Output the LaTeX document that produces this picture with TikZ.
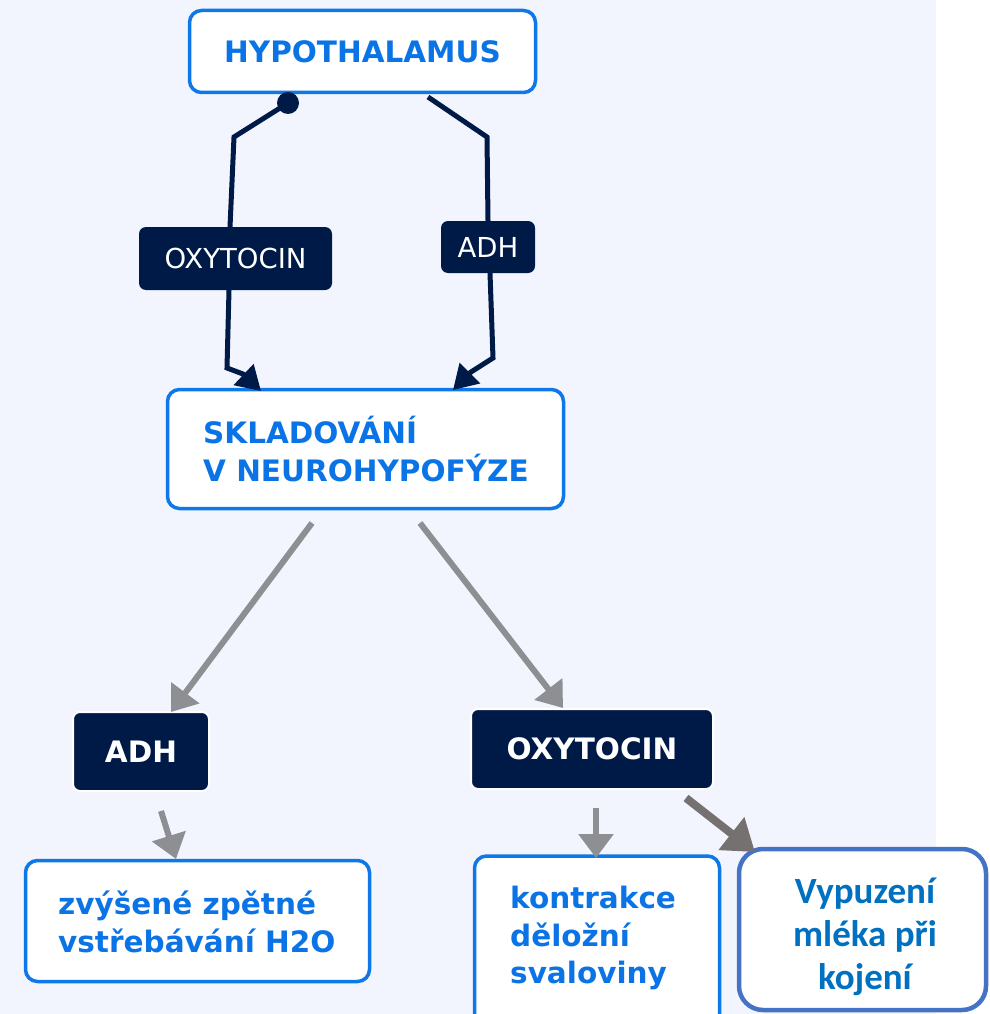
\documentclass[tikz,border=0pt]{standalone}
\usepackage{fontspec}
\setmainfont{DejaVu Sans}
\newfontfamily\calib{Carlito}
\usetikzlibrary{arrows.meta}
\definecolor{bgblue}{HTML}{F2F5FE}
\definecolor{navy}{HTML}{001A47}
\definecolor{tblue}{HTML}{0A74E6}
\definecolor{bblue}{HTML}{0F78E8}
\definecolor{oblue}{HTML}{4472C4}
\definecolor{otext}{HTML}{0070C0}
\definecolor{gline}{HTML}{8E8F92}
\definecolor{dgline}{HTML}{767171}
\begin{document}
\begin{tikzpicture}[x=1pt,y=-1pt,
  wbox/.style={draw=bblue, line width=3.5pt, fill=white, rounded corners=12pt, inner sep=0pt},
  obox/.style={draw=oblue, line width=4.5pt, fill=white, rounded corners=24pt, inner sep=0pt},
  btext/.style={text=tblue, inner sep=0pt, font=\bfseries\fontsize{29.5}{37.5}\selectfont},
  otxt/.style={text=otext, inner sep=0pt, align=center, font=\calib\bfseries\fontsize{37}{43}\selectfont},
  dbox/.style={fill=navy, rounded corners=7pt, inner sep=0pt, text=white},
  dlabel/.style={dbox, font=\fontsize{27.5}{33}\selectfont},
  dboxb/.style={dbox, draw=white, line width=2pt, font=\bfseries\fontsize{29.5}{37}\selectfont},
  navyline/.style={draw=navy, line width=5pt, line join=miter},
  navyarrow/.style={navyline, -{Triangle[length=24pt,width=28pt]}},
  garrow/.style={draw=gline, line width=6pt, -{Triangle[length=24pt,width=34pt]}},
  dgarrow/.style={draw=dgline, line width=8pt, -{Triangle[length=30pt,width=40pt]}}
]
\useasboundingbox (0,0) rectangle (989,1014);
\fill[white] (0,0) rectangle (989,1014);
\fill[bgblue] (0,0) rectangle (936,1014);

% nodes
\node[wbox, btext, minimum width=346pt, minimum height=82pt] (hyp) at (362.5,51.5) {HYPOTHALAMUS};
\node[dlabel, minimum width=193pt, minimum height=63pt] (oxt) at (235.5,258.5) {OXYTOCIN};
\node[dlabel, minimum width=94pt, minimum height=52pt] (adht) at (488,247) {ADH};
\node[wbox, minimum width=396pt, minimum height=119pt] (skl) at (365.5,449) {};
\node[btext, align=left, anchor=west] (sklt) at (203,449) {SKLADOVÁNÍ\\V NEUROHYPOFÝZE};
\node[dboxb, minimum width=136pt, minimum height=79pt] (adhb) at (141,751.5) {ADH};
\node[dboxb, minimum width=242pt, minimum height=80pt] (oxb) at (592,749) {OXYTOCIN};
\node[wbox, minimum width=344pt, minimum height=121pt] (zvy) at (197.5,921) {};
\node[btext, align=left, anchor=west] (zvyt) at (58,922) {zvýšené zpětné\\vstřebávání H2O};
\node[wbox, minimum width=245pt, minimum height=170pt] (kon) at (597,941) {};
\node[btext, align=left, anchor=west] (kont) at (510,938) {kontrakce\\děložní\\svaloviny};
\node[obox, minimum width=247pt, minimum height=161pt] (vyp) at (862.5,929.5) {};
\node[otxt] (vypt) at (865,937) {Vypuzení\\mléka při\\kojení};

% navy connectors
\coordinate (hL) at (288,103);
\coordinate (aL1) at (234,137);
\coordinate (aL2) at (230,227);
\coordinate (aL3) at (229,290);
\coordinate (aL4) at (227,368);
\coordinate (aL5) at (243,374);
\coordinate (tL) at (261,391);
\coordinate (hR) at (428,97);
\coordinate (aR1) at (487,137);
\coordinate (aR2) at (488,221);
\coordinate (aR3) at (490,273);
\coordinate (aR4) at (493,358);
\coordinate (aR5) at (471,372);
\coordinate (tR) at (453,390);
\draw[navyline] (hL) -- (aL1) -- (aL2);
\fill[navy] (hL) circle[radius=11pt];
\draw[navyarrow] (aL3) -- (aL4) -- (aL5) -- (tL);
\draw[navyline] (hR) -- (aR1) -- (aR2);
\draw[navyarrow] (aR3) -- (aR4) -- (aR5) -- (tR);

% gray connectors
\coordinate (s1) at (312,523);
\coordinate (e1) at (171,712);
\coordinate (s2) at (420,523);
\coordinate (e2) at (563,708);
\coordinate (s3) at (161,811);
\coordinate (e3) at (176,859);
\coordinate (s4) at (596,808);
\coordinate (e4) at (596,858);
\coordinate (s5) at (686,798);
\coordinate (e5) at (755,852);
\draw[garrow] (s1) -- (e1);
\draw[garrow] (s2) -- (e2);
\draw[garrow] (s3) -- (e3);
\draw[garrow] (s4) -- (e4);
\draw[dgarrow] (s5) -- (e5);
\end{tikzpicture}
\end{document}
